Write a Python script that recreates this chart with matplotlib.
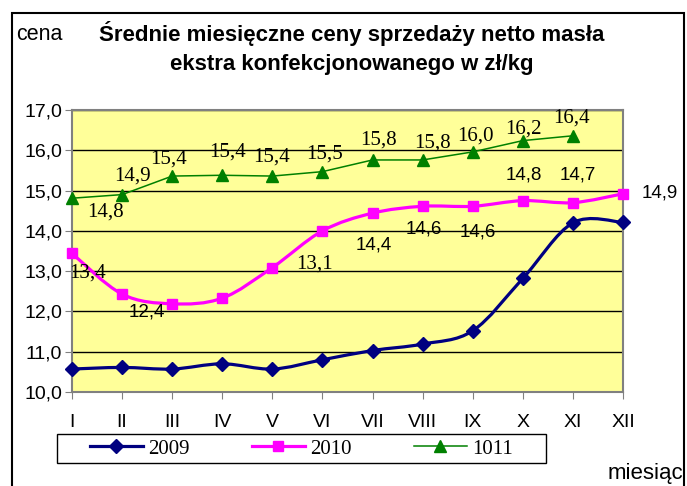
import numpy as np
import matplotlib.pyplot as plt
from matplotlib.path import Path
from matplotlib.patches import PathPatch, Rectangle
from matplotlib.lines import Line2D

months = ['I', 'II', 'III', 'IV', 'V', 'VI', 'VII', 'VIII', 'IX', 'X', 'XI', 'XII']
y2009 = [10.57, 10.61, 10.57, 10.70, 10.57, 10.80, 11.03, 11.19, 11.52, 12.82, 14.20, 14.21]
y2010 = [13.44, 12.43, 12.19, 12.33, 13.09, 14.00, 14.44, 14.61, 14.61, 14.75, 14.70, 14.92]
y1011 = [14.81, 14.90, 15.36, 15.38, 15.36, 15.47, 15.76, 15.76, 15.96, 16.24, 16.36]

# labelled points of 2010 (index) and of 1011
lab2010 = [0, 1, 4, 6, 7, 8, 9, 10, 11]
lab1011 = list(range(11))
# label offsets in pixels (dx, dy down)
off2010 = [(16, 20), (25, 18), (42, -3), (1, 32), (1, 23), (5, 26), (1, -26), (5, -28), (37, -1)]
serif2010 = [True, False, True, False, False, False, False, False, False]
off1011 = [(33, 14), (10, -19), (-4, -17), (5, -23), (-1, -19), (2, -18),
           (6, -20), (10, -17), (3, -16), (1, -12), (-1, -18)]


def smooth_path(xs, ys):
    # Excel-like smoothed line (Catmull-Rom as cubic Bezier)
    p = np.column_stack([xs, ys])
    verts = [p[0]]
    codes = [Path.MOVETO]
    n = len(p)
    for i in range(n - 1):
        p0 = p[max(i - 1, 0)]
        p1 = p[i]
        p2 = p[i + 1]
        p3 = p[min(i + 2, n - 1)]
        c1 = p1 + (p2 - p0) / 6
        c2 = p2 - (p3 - p1) / 6
        verts += [c1, c2, p2]
        codes += [Path.CURVE4] * 3
    return Path(verts, codes)


fig = plt.figure(figsize=(6.87, 4.86), dpi=100)
ax = fig.add_axes([72 / 687, 94 / 486, 551 / 687, 282 / 486])
ax.set_facecolor('#FFFF99')

x = np.arange(len(months))
ax.add_patch(PathPatch(smooth_path(x, y2009), fill=False, color='#000080', lw=2.3, zorder=3, clip_on=False))
ax.plot(x, y2009, ls='none', marker='D', ms=7, color='#000080', zorder=4, clip_on=False)
ax.add_patch(PathPatch(smooth_path(x, y2010), fill=False, color='#FF00FF', lw=2.3, zorder=3, clip_on=False))
ax.plot(x, y2010, ls='none', marker='s', ms=7.5, color='#FF00FF', zorder=4, clip_on=False)
x11 = np.arange(len(y1011))
ax.plot(x11, y1011, color='#008000', lw=1.1, marker='^', ms=9, zorder=4, clip_on=False)

for k, i in enumerate(lab2010):
    fam = 'Liberation Serif' if serif2010[k] else 'Liberation Sans'
    fs = 15 if serif2010[k] else 13.5
    ax.annotate(('%.1f' % y2010[i]).replace('.', ','), (x[i], y2010[i]),
                xytext=(off2010[k][0] * 0.72, -off2010[k][1] * 0.72), textcoords='offset points',
                ha='center', va='center', fontsize=fs, family=fam, annotation_clip=False)
for k, i in enumerate(lab1011):
    ax.annotate(('%.1f' % y1011[i]).replace('.', ','), (x11[i], y1011[i]),
                xytext=(off1011[k][0] * 0.72, -off1011[k][1] * 0.72), textcoords='offset points',
                ha='center', va='center', fontsize=15, family='Liberation Serif', annotation_clip=False)

ax.set_xlim(0, 11)
ax.set_ylim(10, 17)
ax.set_yticks(np.arange(10, 17.1, 1))
ax.set_yticklabels([('%.1f' % v).replace('.', ',') for v in np.arange(10, 17.1, 1)],
                   family='Liberation Sans', fontsize=14)
ax.set_xticks(x)
ax.set_xticklabels(months, family='Liberation Sans', fontsize=14)
ax.tick_params(axis='x', length=5, pad=11, color='#808080')
ax.tick_params(axis='y', length=5, pad=2, color='#808080')
ax.grid(axis='y', color='black', lw=1)
ax.set_axisbelow(True)
for s in ax.spines.values():
    s.set_color('#808080')
    s.set_linewidth(1.5)

handles = [Line2D([], [], color='#000080', lw=2.3, marker='D', ms=7),
           Line2D([], [], color='#FF00FF', lw=2.3, marker='s', ms=7.5),
           Line2D([], [], color='#008000', lw=1.1, marker='^', ms=9)]
leg = fig.legend(handles, ['2009', '2010', '1011'], loc='center left', ncol=3,
                 bbox_to_anchor=(90 / 687, 1 - 449 / 486), frameon=False, borderpad=0,
                 prop={'family': 'Liberation Serif', 'size': 15}, handlelength=2.54,
                 columnspacing=3.0, handletextpad=0.24, borderaxespad=0)
fig.patches.append(Rectangle((57 / 687, 1 - 463 / 486), 489 / 687, 29 / 486, transform=fig.transFigure,
                             fill=False, edgecolor='black', lw=1))

fig.text(352 / 687, 1 - 34 / 486, 'Średnie miesięczne ceny sprzedaży netto masła',
         ha='center', va='center', fontsize=16, fontweight='bold', family='Liberation Sans')
fig.text(352 / 687, 1 - 64 / 486, 'ekstra konfekcjonowanego w zł/kg',
         ha='center', va='center', fontsize=16, fontweight='bold', family='Liberation Sans')
fig.text(16 / 687, 1 - 34 / 486, 'cena', ha='left', va='center', fontsize=15.5, family='Liberation Sans')
fig.text(683 / 687, 1 - 479 / 486, 'miesiąc', ha='right', va='baseline', fontsize=16, family='Liberation Sans')

fig.patches.append(Rectangle((12 / 687, -0.05), 672 / 687, 1.05 - 13 / 486, transform=fig.transFigure,
                             fill=False, edgecolor='black', lw=1.5))

fig.savefig('out.png', dpi=100)
